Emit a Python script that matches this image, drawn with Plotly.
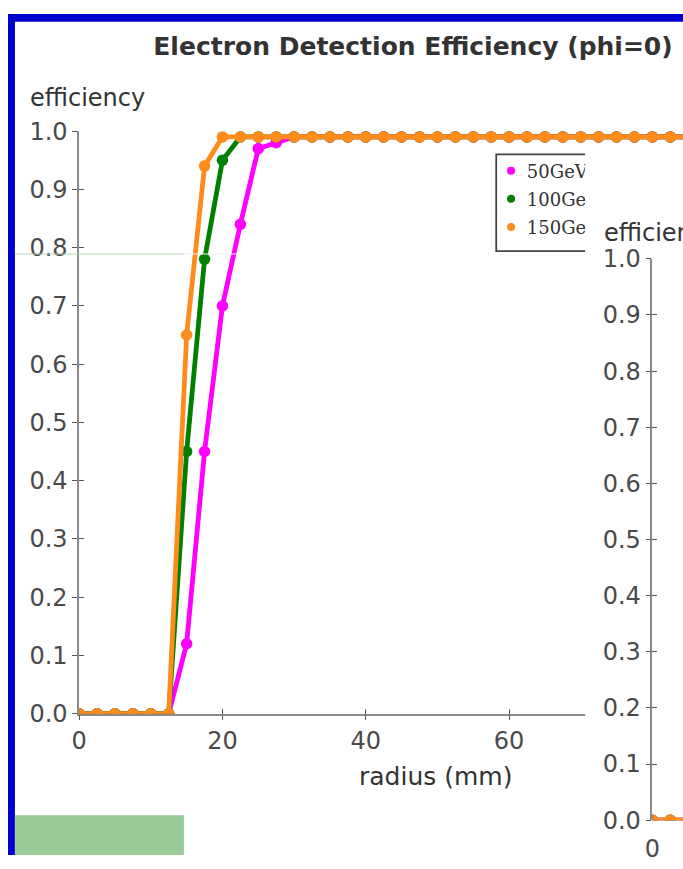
import plotly.graph_objects as go

W, H = 683, 869

# ---------------- data ----------------
radius = [0, 2.5, 5, 7.5, 10, 12.5, 15, 17.5, 20, 22.5, 25, 27.5, 30, 32.5, 35, 37.5,
          40, 42.5, 45, 47.5, 50, 52.5, 55, 57.5, 60, 62.5, 65, 67.5, 70, 72.5, 75,
          77.5, 80, 82.5, 85]
eff_50GeV = [0.0, 0.0, 0.0, 0.0, 0.0, 0.0, 0.12, 0.45, 0.70, 0.84, 0.97, 0.98,
             0.99, 0.99, 0.99, 0.99, 0.99, 0.99, 0.99, 0.99, 0.99, 0.99, 0.99, 0.99,
             0.99, 0.99, 0.99, 0.99, 0.99, 0.99, 0.99, 0.99, 0.99, 0.99, 0.99]
eff_100GeV = [0.0, 0.0, 0.0, 0.0, 0.0, 0.0, 0.45, 0.78, 0.95, 0.99, 0.99, 0.99,
              0.99, 0.99, 0.99, 0.99, 0.99, 0.99, 0.99, 0.99, 0.99, 0.99, 0.99, 0.99,
              0.99, 0.99, 0.99, 0.99, 0.99, 0.99, 0.99, 0.99, 0.99, 0.99, 0.99]
eff_150GeV = [0.0, 0.0, 0.0, 0.0, 0.0, 0.0, 0.65, 0.94, 0.99, 0.99, 0.99, 0.99,
              0.99, 0.99, 0.99, 0.99, 0.99, 0.99, 0.99, 0.99, 0.99, 0.99, 0.99, 0.99,
              0.99, 0.99, 0.99, 0.99, 0.99, 0.99, 0.99, 0.99, 0.99, 0.99, 0.99]

# second (partially visible) chart
radius2 = [0, 2.5, 5]
eff2_50GeV = [0.0, 0.0, 0.0]
eff2_100GeV = [0.0, 0.0, 0.0]
eff2_150GeV = [0.0, 0.0, 0.0]

series_names = ["50GeV", "100GeV", "150GeV"]
series_colors = ["#ff00ff", "#008000", "#ff8c1a"]

y_tickvals = [0.0, 0.1, 0.2, 0.3, 0.4, 0.5, 0.6, 0.7, 0.8, 0.9, 1.0]
y_ticktext = ["0.0", "0.1", "0.2", "0.3", "0.4", "0.5", "0.6", "0.7", "0.8", "0.9", "1.0"]
x_tickvals = [0, 20, 40, 60, 80]
x_ticktext = ["0", "20", "40", "60", "80"]
x2_tickvals = [0]
x2_ticktext = ["0"]

title_text = "Electron Detection Efficiency (phi=0)"
y_title = "efficiency"
x_title = "radius (mm)"

# ---------------- geometry helpers (pixels -> paper) ----------------
def fx(p):
    return p / W

def fy(p):
    return 1 - p / H

PX_PER_MM = 7.25
X0, Y0, Y1 = 72, 723, 121  # main chart pixel frame

def dx(p):
    return (p - X0) / PX_PER_MM

def dy(p):
    return (Y0 - p) / (Y0 - Y1)

LC = "#8a8a8a"
TC = "#555555"
TICKFONT = dict(family="DejaVu Sans", size=24, color="#4a4a4a")

fig = go.Figure()

for name, vals, col in zip(series_names, [eff_50GeV, eff_100GeV, eff_150GeV], series_colors):
    fig.add_trace(go.Scatter(x=radius, y=vals, name=name, mode="lines+markers",
                             line=dict(color=col, width=4.8),
                             marker=dict(color=col, size=11.5),
                             xaxis="x", yaxis="y", showlegend=False))

# empty trace creating the panel of the second chart that hides the first one
fig.add_trace(go.Scatter(x=[], y=[], xaxis="x2", yaxis="y2", showlegend=False))

for name, vals, col in zip(series_names, [eff2_50GeV, eff2_100GeV, eff2_150GeV], series_colors):
    fig.add_trace(go.Scatter(x=radius2, y=vals, name=name, mode="lines+markers",
                             line=dict(color=col, width=4.8),
                             marker=dict(color=col, size=11.5),
                             xaxis="x3", yaxis="y3", showlegend=False))

# empty traces for overlay axes (inner half of the crossing ticks)
fig.add_trace(go.Scatter(x=[], y=[], xaxis="x4", yaxis="y", showlegend=False))
fig.add_trace(go.Scatter(x=[], y=[], xaxis="x", yaxis="y4", showlegend=False))
fig.add_trace(go.Scatter(x=[], y=[], xaxis="x3", yaxis="y5", showlegend=False))

xr = [0, (W - X0) / PX_PER_MM]
x3r = [0, (W - 652) / PX_PER_MM]

ax_common = dict(showgrid=False, zeroline=False, tickmode="array")

fig.update_layout(
    width=W, height=H,
    margin=dict(l=0, r=0, t=0, b=0),
    paper_bgcolor="white", plot_bgcolor="white",
    hovermode=False,
    title=dict(text=title_text, x=fx(413), xanchor="center", y=fy(46), yanchor="middle",
               font=dict(family="DejaVu Sans", size=25, color="#333333", weight="bold")),
    xaxis=dict(domain=[fx(X0), 1], range=xr, anchor="y", showline=True, linecolor=LC,
               linewidth=1.5, ticks="outside", ticklen=5, tickwidth=1.2, tickcolor=TC,
               tickvals=x_tickvals, ticktext=x_ticktext, tickfont=TICKFONT, **ax_common),
    yaxis=dict(domain=[fy(Y0), fy(Y1)], range=[0, 1], anchor="x", showline=True,
               linecolor=LC, linewidth=1.5, ticks="outside", ticklen=5, tickwidth=1.2,
               tickcolor=TC, tickvals=y_tickvals, ticktext=y_ticktext, tickfont=TICKFONT,
               **ax_common),
    xaxis4=dict(overlaying="x", anchor="y", range=xr, showline=False, ticks="inside",
                ticklen=5, tickwidth=1.2, tickcolor=TC, tickvals=x_tickvals,
                showticklabels=False, **ax_common),
    yaxis4=dict(overlaying="y", anchor="x", range=[0, 1], showline=False, ticks="inside",
                ticklen=5, tickwidth=1.2, tickcolor=TC, tickvals=y_tickvals,
                showticklabels=False, **ax_common),
    xaxis2=dict(domain=[fx(584), 1], range=[0, 1], anchor="y2", visible=False),
    yaxis2=dict(domain=[0, fy(138)], range=[0, 1], anchor="x2", visible=False),
    xaxis3=dict(domain=[fx(652), 1], range=x3r, anchor="y3", showline=False,
                ticks="outside", ticklen=7, tickcolor="rgba(0,0,0,0)",
                tickvals=x2_tickvals, ticktext=x2_ticktext, tickfont=TICKFONT, **ax_common),
    yaxis3=dict(domain=[fy(833), fy(253)], range=[0, 1], anchor="x3", showline=True,
                linecolor=LC, linewidth=1.5, ticks="outside", ticklen=5, tickwidth=1.2,
                tickcolor=TC, tickvals=y_tickvals, ticktext=y_ticktext, tickfont=TICKFONT,
                **ax_common),
    yaxis5=dict(overlaying="y3", anchor="x3", range=[0, 1], showline=False, ticks="inside",
                ticklen=5, tickwidth=1.2, tickcolor=TC, tickvals=y_tickvals,
                showticklabels=False, **ax_common),
)

annotations = [
    dict(text=y_title, x=fx(20), y=fy(87), xref="paper", yref="paper", xanchor="left",
         yanchor="middle", showarrow=False,
         font=dict(family="DejaVu Sans", size=24, color="#333333")),
    dict(text=y_title, x=fx(601), y=fy(226), xref="paper", yref="paper", xanchor="left",
         yanchor="middle", showarrow=False,
         font=dict(family="DejaVu Sans", size=24, color="#333333")),
    dict(text=x_title, x=fx(433), y=fy(788), xref="paper", yref="paper", xanchor="center",
         yanchor="middle", showarrow=False,
         font=dict(family="DejaVu Sans", size=25, color="#333333")),
]
fig.update_layout(annotations=annotations)

shapes = []
# legend of the main chart (drawn inside the main subplot so the second panel hides it)
shapes.append(dict(type="rect", xref="x", yref="y", layer="below",
                   x0=dx(494), x1=dx(650), y0=dy(245), y1=dy(145),
                   line=dict(color="#444444", width=1.8), fillcolor="rgba(0,0,0,0)"))
for i, (name, col) in enumerate(zip(series_names, series_colors)):
    yy = dy(162 + 29 * i)
    shapes.append(dict(type="circle", xref="x", yref="y", layer="below",
                       xsizemode="pixel", ysizemode="pixel", xanchor=dx(509), yanchor=yy,
                       x0=-4, x1=4, y0=-4, y1=4, fillcolor=col, line=dict(width=0)))
    shapes.append(dict(type="line", xref="x", yref="y", layer="below",
                       x0=dx(525), x1=dx(650), y0=yy, y1=yy,
                       line=dict(color="rgba(0,0,0,0)", width=1),
                       label=dict(text=name, textposition="start", xanchor="left",
                                  yanchor="middle", padding=0,
                                  font=dict(family="DejaVu Serif", size=18, color="#333333"))))

# slide decorations (blue frame, green box, thin line)
shapes += [
    dict(type="rect", xref="paper", yref="paper", layer="above", x0=0, x1=fx(7), y0=0, y1=1,
         fillcolor="#0000cc", line=dict(width=0)),
    dict(type="rect", xref="paper", yref="paper", layer="above", x0=0, x1=1, y0=fy(8), y1=1,
         fillcolor="#0000cc", line=dict(width=0)),
    dict(type="rect", xref="paper", yref="paper", layer="above", x0=fx(7), x1=fx(178),
         y0=0, y1=fy(828), fillcolor="#99cc99", line=dict(width=0)),
    dict(type="line", xref="paper", yref="paper", layer="above", x0=fx(7), x1=fx(178),
         y0=fy(248), y1=fy(248), line=dict(color="#b3d9b3", width=1)),
    dict(type="line", xref="paper", yref="paper", layer="above", x0=fx(178), x1=fx(232),
         y0=fy(248), y1=fy(248), line=dict(color="#f2f6f2", width=1)),
]
fig.update_layout(shapes=shapes)

fig.write_html("out.html", config={"displayModeBar": False},
               post_script="document.body.style.margin='0';document.body.style.overflow='hidden';")
